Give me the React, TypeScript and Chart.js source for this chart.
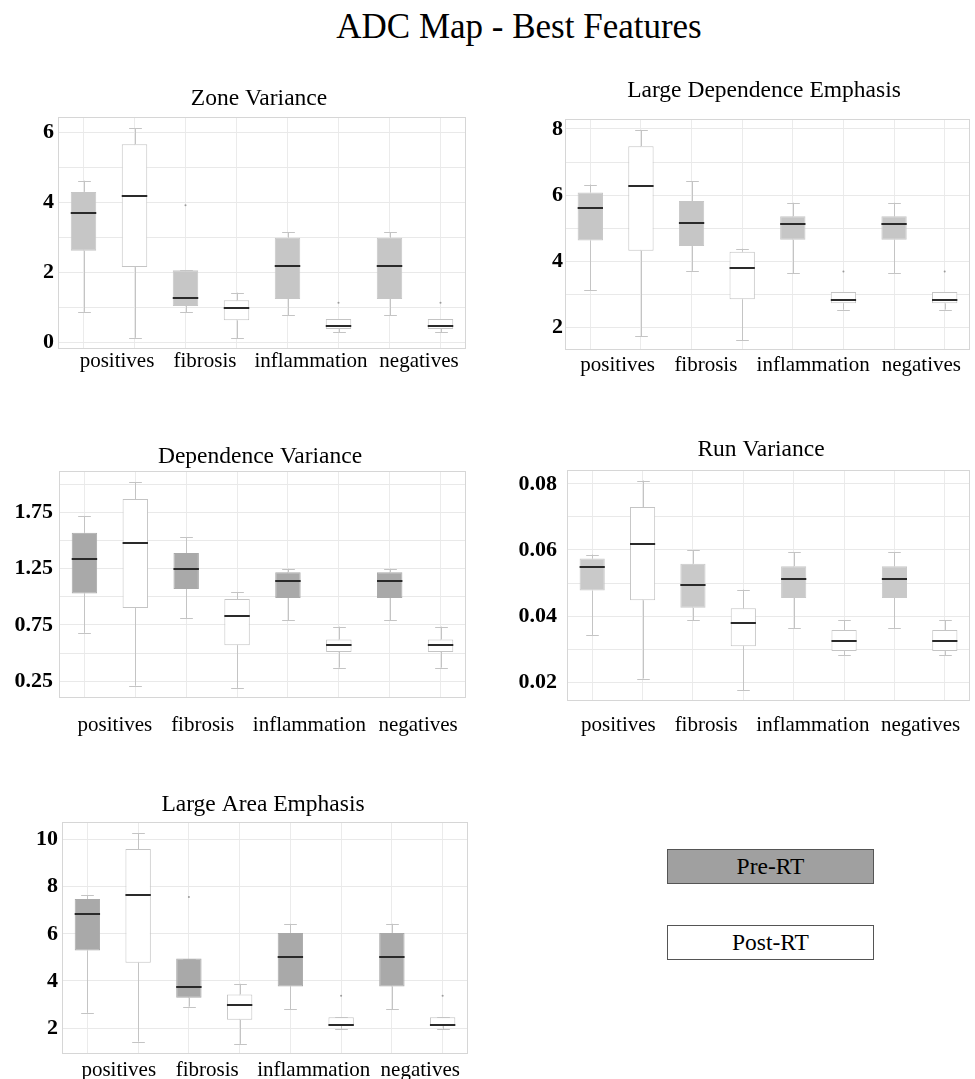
import React, { useEffect, useRef } from 'react';
import { Chart, registerables } from 'chart.js';

Chart.register(...registerables);

// ---------- data ----------
const categories = ['positives', 'fibrosis', 'inflammation', 'negatives'];
const groups = ['Pre-RT', 'Post-RT'];
const boxSlots = categories.flatMap((c) => groups.map((g) => `${c} ${g}`));

// Zone Variance
const zvMin = [0.88, 0.14, 0.87, 0.13, 0.79, 0.30, 0.79, 0.30];
const zvQ1 = [2.63, 2.16, 1.05, 0.64, 1.25, 0.39, 1.25, 0.39];
const zvMed = [3.71, 4.19, 1.29, 0.98, 2.18, 0.49, 2.19, 0.49];
const zvQ3 = [4.31, 5.67, 2.07, 1.21, 3.0, 0.68, 3.0, 0.68];
const zvMax = [4.63, 6.13, 2.07, 1.43, 3.15, 0.68, 3.15, 0.68];
const zvOutliers: [number, number][] = [[2, 3.93], [5, 1.14], [7, 1.14]];

// Large Dependence Emphasis
const ldeMin = [3.12, 1.74, 3.71, 1.61, 3.64, 2.54, 3.64, 2.54];
const ldeQ1 = [4.63, 4.32, 4.46, 2.85, 4.65, 2.73, 4.65, 2.73];
const ldeMed = [5.61, 6.27, 5.17, 3.79, 5.12, 2.84, 5.13, 2.84];
const ldeQ3 = [6.08, 7.48, 5.82, 4.29, 5.36, 3.07, 5.36, 3.07];
const ldeMax = [6.32, 7.97, 6.42, 4.38, 5.77, 3.07, 5.77, 3.07];
const ldeOutliers: [number, number][] = [[5, 3.69], [7, 3.69]];

// Dependence Variance
const dvMin = [0.68, 0.21, 0.81, 0.19, 0.79, 0.37, 0.79, 0.37];
const dvQ1 = [1.03, 0.9, 1.07, 0.57, 0.99, 0.51, 0.99, 0.51];
const dvMed = [1.34, 1.48, 1.25, 0.83, 1.14, 0.57, 1.14, 0.57];
const dvQ3 = [1.57, 1.87, 1.39, 0.98, 1.22, 0.62, 1.22, 0.62];
const dvMax = [1.72, 2.02, 1.53, 1.04, 1.25, 0.735, 1.25, 0.735];
const dvOutliers: [number, number][] = [];

// Run Variance
const rvMin = [0.0343, 0.0211, 0.0388, 0.0175, 0.0364, 0.0282, 0.0364, 0.0282];
const rvQ1 = [0.0477, 0.0448, 0.0425, 0.0309, 0.0455, 0.0294, 0.0455, 0.0294];
const rvMed = [0.0548, 0.0618, 0.0494, 0.038, 0.0512, 0.0324, 0.0513, 0.0324];
const rvQ3 = [0.0574, 0.073, 0.0558, 0.0424, 0.0551, 0.0358, 0.0551, 0.0358];
const rvMax = [0.0586, 0.081, 0.0599, 0.048, 0.0593, 0.0388, 0.0593, 0.0388];
const rvOutliers: [number, number][] = [];

// Large Area Emphasis
const laeMin = [2.65, 1.43, 2.91, 1.33, 2.8, 1.96, 2.8, 1.96];
const laeQ1 = [5.29, 4.77, 3.29, 2.35, 3.77, 2.1, 3.77, 2.1];
const laeMed = [6.84, 7.65, 3.74, 2.99, 5.03, 2.13, 5.02, 2.13];
const laeQ3 = [7.48, 9.6, 4.95, 3.43, 6.04, 2.46, 6.04, 2.46];
const laeMax = [7.63, 10.27, 4.95, 3.88, 6.43, 2.46, 6.43, 2.46];
const laeOutliers: [number, number][] = [[2, 7.57], [5, 3.37], [7, 3.37]];

// ---------- styling / layout ----------
const SERIF = '"Liberation Serif", "Times New Roman", serif';
const Y_AXIS_W = 60;
const RIGHT_PAD = 5;
const BOTTOM_H = 42;

type PanelCfg = {
  title: string;
  mins: number[]; q1: number[]; med: number[]; q3: number[]; maxs: number[];
  outliers: [number, number][];
  yMin: number; yMax: number; yStep: number; major: number; base: number; dec: number;
  preColor: string;
  l: number; r: number; t: number; b: number;
  titleX: number; titleY: number; labelGap: number; yPad: number; labelShift: number[];
};

const PANELS: PanelCfg[] = [
  { title: 'Zone Variance', mins: zvMin, q1: zvQ1, med: zvMed, q3: zvQ3, maxs: zvMax, outliers: zvOutliers,
    yMin: -0.18, yMax: 6.45, yStep: 1, major: 2, base: 0, dec: 0, preColor: '#c6c6c6',
    l: 58, r: 466, t: 117, b: 349, titleX: 259, titleY: 99, labelGap: 12, yPad: 4, labelShift: [8, -6, -2, 4] },
  { title: 'Large Dependence Emphasis', mins: ldeMin, q1: ldeQ1, med: ldeMed, q3: ldeQ3, maxs: ldeMax, outliers: ldeOutliers,
    yMin: 1.32, yMax: 8.3, yStep: 1, major: 2, base: 0, dec: 0, preColor: '#c6c6c6',
    l: 565, r: 970, t: 119, b: 350, titleX: 764, titleY: 91, labelGap: 15, yPad: 2, labelShift: [2, -11, -5, 2] },
  { title: 'Dependence Variance', mins: dvMin, q1: dvQ1, med: dvMed, q3: dvQ3, maxs: dvMax, outliers: dvOutliers,
    yMin: 0.1, yMax: 2.12, yStep: 0.25, major: 0.5, base: 0.25, dec: 2, preColor: '#a9a9a9',
    l: 59, r: 466, t: 471, b: 698, titleX: 260, titleY: 457, labelGap: 27, yPad: 6, labelShift: [5, -9, -4, 3] },
  { title: 'Run Variance', mins: rvMin, q1: rvQ1, med: rvMed, q3: rvQ3, maxs: rvMax, outliers: rvOutliers,
    yMin: 0.0143, yMax: 0.0842, yStep: 0.01, major: 0.02, base: 0, dec: 2, preColor: '#c9c9c9',
    l: 567, r: 970, t: 470, b: 701, titleX: 761, titleY: 450, labelGap: 24, yPad: 10, labelShift: [1, -12, -6, 1] },
  { title: 'Large Area Emphasis', mins: laeMin, q1: laeQ1, med: laeMed, q3: laeQ3, maxs: laeMax, outliers: laeOutliers,
    yMin: 0.9, yMax: 10.75, yStep: 2, major: 2, base: 0, dec: 0, preColor: '#a9a9a9',
    l: 62, r: 468, t: 822, b: 1054, titleX: 263, titleY: 805, labelGap: 16, yPad: 4, labelShift: [6, -7, -2, 3] },
];

const boxPlugin = {
  id: 'boxplot',
  beforeDatasetsDraw(chart: any, _args: any, opts: any) {
    const { ctx, chartArea } = chart;
    const y = chart.scales.y;
    const meta = chart.getDatasetMeta(0);
    ctx.save();
    // plot frame
    ctx.strokeStyle = '#d6d6d6';
    ctx.lineWidth = 1;
    ctx.strokeRect(Math.round(chartArea.left) + 0.5, Math.round(chartArea.top) + 0.5,
      Math.round(chartArea.width) - 1, Math.round(chartArea.height) - 1);
    // whiskers
    ctx.strokeStyle = '#c4c4c4';
    meta.data.forEach((bar: any, i: number) => {
      const x = Math.round(bar.x) + 0.5;
      const half = bar.width / 4;
      const yMin = y.getPixelForValue(opts.mins[i]);
      const yMax = y.getPixelForValue(opts.maxs[i]);
      const yQ1 = y.getPixelForValue(opts.q1[i]);
      const yQ3 = y.getPixelForValue(opts.q3[i]);
      ctx.beginPath();
      ctx.moveTo(x, yQ1); ctx.lineTo(x, yMin);
      ctx.moveTo(x, yQ3); ctx.lineTo(x, yMax);
      ctx.moveTo(x - half, Math.round(yMin) + 0.5); ctx.lineTo(x + half, Math.round(yMin) + 0.5);
      ctx.moveTo(x - half, Math.round(yMax) + 0.5); ctx.lineTo(x + half, Math.round(yMax) + 0.5);
      ctx.stroke();
    });
    ctx.restore();
  },
  afterDatasetsDraw(chart: any, _args: any, opts: any) {
    const { ctx, chartArea } = chart;
    const x = chart.scales.x;
    const y = chart.scales.y;
    const meta = chart.getDatasetMeta(0);
    ctx.save();
    ctx.strokeStyle = '#2a2a2a';
    ctx.lineWidth = 2;
    meta.data.forEach((bar: any, i: number) => {
      const ym = Math.round(y.getPixelForValue(opts.med[i]));
      ctx.beginPath();
      ctx.moveTo(bar.x - bar.width / 2, ym);
      ctx.lineTo(bar.x + bar.width / 2, ym);
      ctx.stroke();
    });
    ctx.fillStyle = '#9a9a9a';
    opts.outliers.forEach(([i, v]: [number, number]) => {
      const bar = meta.data[i];
      const yy = y.getPixelForValue(v);
      ctx.beginPath();
      ctx.arc(bar.x, yy, 1, 0, Math.PI * 2);
      ctx.fill();
    });
    ctx.fillStyle = '#000';
    ctx.textAlign = 'center';
    ctx.textBaseline = 'middle';
    // category labels, centred under each Pre/Post pair
    ctx.font = `21px ${SERIF}`;
    opts.categories.forEach((c: string, k: number) => {
      const cx = (x.getPixelForValue(2 * k) + x.getPixelForValue(2 * k + 1)) / 2 + opts.labelShift[k];
      ctx.fillText(c, cx, chartArea.bottom + opts.labelGap);
    });
    // panel title
    ctx.font = `23.5px ${SERIF}`;
    ctx.fillText(opts.title, opts.titleX, opts.titleY);
    ctx.restore();
  },
};

function Panel({ p }: { p: PanelCfg }) {
  const ref = useRef<HTMLCanvasElement>(null);
  const canvasLeft = p.l - Y_AXIS_W;
  const canvasTop = p.titleY - 22;
  const width = p.r - p.l + Y_AXIS_W + RIGHT_PAD;
  const height = p.b - canvasTop + BOTTOM_H;

  useEffect(() => {
    const isMajor = (v: number) => {
      const k = (v - p.base) / p.major;
      return Math.abs(k - Math.round(k)) < 1e-6;
    };
    const chart = new Chart(ref.current as HTMLCanvasElement, {
      type: 'bar',
      data: {
        labels: boxSlots,
        datasets: [{
          label: 'box',
          data: p.q1.map((v, i) => [v, p.q3[i]]) as any,
          xAxisID: 'x',
          yAxisID: 'y',
          backgroundColor: boxSlots.map((_, i) => (i % 2 === 0 ? p.preColor : '#ffffff')),
          borderColor: boxSlots.map((_, i) => (i % 2 === 0 ? p.preColor : '#c4c4c4')),
          borderWidth: 1,
          borderSkipped: false,
          barPercentage: 0.5,
          categoryPercentage: 1,
        }],
      },
      options: {
        responsive: false,
        animation: false,
        devicePixelRatio: 1,
        events: [],
        layout: { padding: { top: p.t - canvasTop, right: RIGHT_PAD, left: 0, bottom: BOTTOM_H } },
        plugins: {
          legend: { display: false },
          tooltip: { enabled: false },
          title: { display: false },
          boxplot: {
            mins: p.mins, q1: p.q1, med: p.med, q3: p.q3, maxs: p.maxs, outliers: p.outliers,
            title: p.title, titleX: p.titleX - canvasLeft, titleY: p.titleY - canvasTop,
            categories, labelShift: p.labelShift, labelGap: p.labelGap,
          },
        } as any,
        scales: {
          x: {
            type: 'category',
            position: 'bottom',
            offset: true,
            grid: { offset: false, color: '#ebebeb', drawTicks: false },
            border: { display: false },
            ticks: { display: false },
            afterFit: (s: any) => { s.height = 0; },
          },
          y: {
            type: 'linear',
            min: p.yMin,
            max: p.yMax,
            grid: { color: '#e9e9e9', drawTicks: false },
            border: { display: false },
            ticks: {
              stepSize: p.yStep,
              includeBounds: false,
              autoSkip: false,
              padding: p.yPad,
              color: '#000',
              font: { family: SERIF, size: 22, weight: 'bold' },
              callback: (v: any) => (isMajor(Number(v)) ? Number(v).toFixed(p.dec) : ''),
            },
            afterFit: (s: any) => { s.width = Y_AXIS_W; },
          },
        } as any,
      },
      plugins: [boxPlugin as any],
    });
    return () => chart.destroy();
  }, []);

  return (
    <canvas
      ref={ref}
      width={width}
      height={height}
      style={{ position: 'absolute', left: canvasLeft, top: canvasTop, width, height }}
    />
  );
}

const legendBox = (top: number, bg: string): React.CSSProperties => ({
  position: 'absolute', left: 667, top, width: 207, height: 35, boxSizing: 'border-box',
  border: '1px solid #555', background: bg, fontFamily: SERIF, fontSize: 23.5,
  lineHeight: '33px', textAlign: 'center', color: '#000',
});

export default function App() {
  return (
    <div style={{ position: 'absolute', left: 0, top: 0, width: 975, height: 1079, background: '#fff', overflow: 'hidden' }}>
      <div style={{ position: 'absolute', left: 0, top: 7, width: 1038, textAlign: 'center', fontFamily: SERIF, fontSize: 35, lineHeight: '40px', color: '#000' }}>
        ADC Map - Best Features
      </div>
      {PANELS.map((p) => <Panel key={p.title} p={p} />)}
      <div style={legendBox(849, '#a0a0a0')}>{groups[0]}</div>
      <div style={legendBox(925, '#ffffff')}>{groups[1]}</div>
    </div>
  );
}
